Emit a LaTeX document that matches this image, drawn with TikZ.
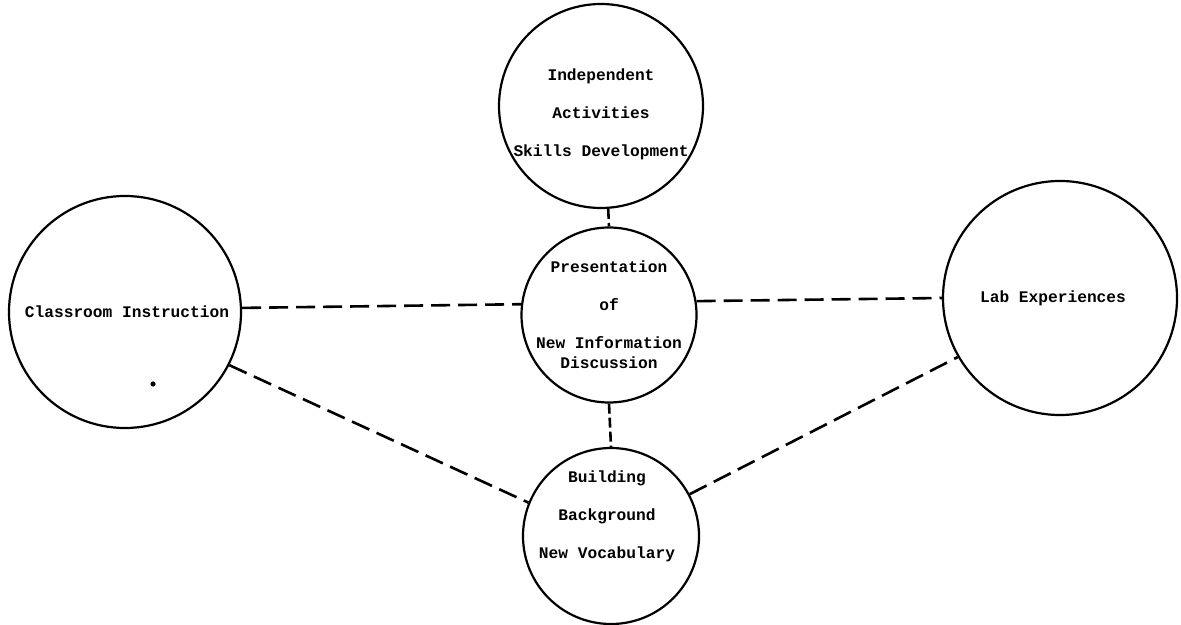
\documentclass[tikz,border=0pt]{standalone}
\usepackage{fontspec}
\newfontfamily\dotfont{Liberation Mono}
\begin{document}
\begin{tikzpicture}[x=0.5pt,y=-0.5pt,
  bubble/.style={circle,draw,line width=1.1pt,inner sep=0pt},
  lbl/.style={font=\dotfont\bfseries\fontsize{8.1}{19}\selectfont,align=center,inner sep=0pt},
  link/.style={line width=1.3pt,dash pattern=on 9.5pt off 4pt},
  shortlink/.style={line width=1.3pt,dash pattern=on 5pt off 2pt}]
\useasboundingbox (0,0) rectangle (1181,625);
% circles
\node[bubble,minimum size=102pt] (top) at (601,106) {};
\node[bubble,minimum size=116pt] (left) at (125,312) {};
\node[bubble,minimum size=87.5pt] (ctr) at (609,315) {};
\node[bubble,minimum size=117pt] (right) at (1060,298) {};
\node[bubble,minimum size=88pt] (bot) at (611,536) {};
% labels
\node[lbl] (toptxt) at (601,114) {Independent\\Activities\\Skills Development};
\node[lbl] (lefttxt) at (127,312) {Classroom Instruction};
\node[lbl] (ctrtxt) at (609,315) {Presentation\\of\\New Information\\[-9pt]Discussion};
\node[lbl] (righttxt) at (1053,298) {Lab Experiences};
\node[lbl] (bottxt) at (607,516) {Building\\Background\\New Vocabulary};
% connectors
\draw[shortlink] (top.-86) -- (ctr.north);
\draw[shortlink] (ctr.south) -- (bot.north);
\draw[link] (left.2) -- (ctr.173);
\draw[link] (left.-27) -- (bot.158.6);
\draw[link] (ctr.9) -- (right.180);
\draw[link] (bot.28) -- (right.210);
% speck
\fill (153,384) circle (1.3pt);
\end{tikzpicture}
\end{document}
